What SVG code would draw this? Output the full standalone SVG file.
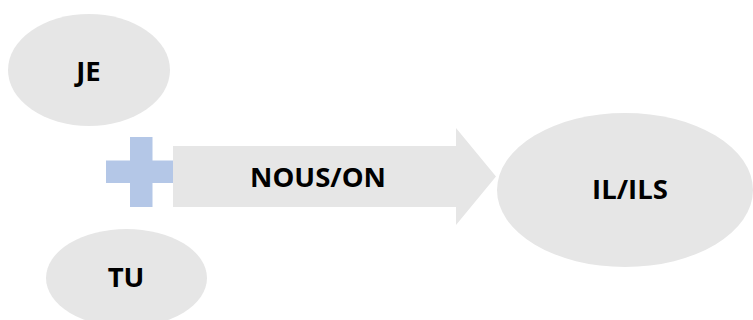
<svg xmlns="http://www.w3.org/2000/svg" width="753" height="320" viewBox="0 0 753 320">
<style>
.n{fill:#e6e6e6}
.t{font-family:"Open Sans","Liberation Sans",sans-serif;font-weight:bold;font-size:27.5px;fill:#000;text-anchor:middle}
.plus{fill:#b4c7e7}
</style>
<rect width="753" height="320" fill="#fff"/>
<g id="je"><ellipse class="n" cx="89" cy="70" rx="81" ry="56"/><text class="t" x="88.5" y="81">JE</text></g>
<g id="tu"><ellipse class="n" cx="126.5" cy="278" rx="80.5" ry="49"/><text class="t" x="126" y="287">TU</text></g>
<g id="plus"><rect class="plus" x="130" y="137" width="22.5" height="70"/><rect class="plus" x="106" y="160.5" width="68" height="22.5"/></g>
<g id="connectors"><g id="nous"><polygon class="n" points="173,146 456,146 456,128 496,176.5 456,225 456,207 173,207"/><text class="t" x="318" y="187">NOUS/ON</text></g></g>
<g id="ils"><ellipse class="n" cx="625" cy="190" rx="128" ry="77"/><text class="t" x="630" y="199">IL/ILS</text></g>
</svg>
